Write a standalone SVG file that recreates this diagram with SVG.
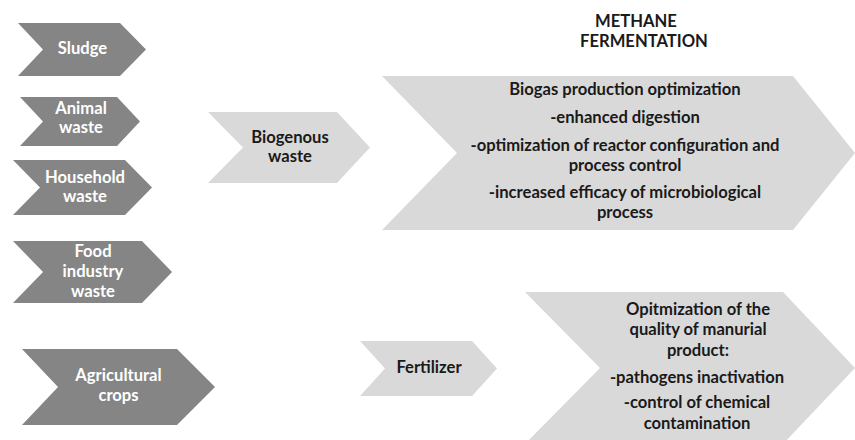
<svg xmlns="http://www.w3.org/2000/svg" width="855" height="440" viewBox="0 0 855 440">
<style>
.dark{fill:#858585}
.light{fill:#d9d9d9}
text{font-family:Lato,"Liberation Sans",sans-serif;font-weight:bold;font-size:16.6px;text-anchor:middle}
.w{fill:#ffffff}
.k{fill:#1a1a1a}
</style>
<rect width="855" height="440" fill="#ffffff"/>
<g id="connectors"></g>
<g id="sludge"><path class="dark" d="M18,23 L120,23 L146,49.5 L120,76 L18,76 L43,49.5 Z"/><text class="w" x="82.5" y="54">Sludge</text></g>
<g id="animal"><path class="dark" d="M20,97 L117,97 L140,121.5 L117,146 L20,146 L43,121.5 Z"/><text class="w" x="81" y="114">Animal</text><text class="w" x="81" y="133">waste</text></g>
<g id="household"><path class="dark" d="M13,160 L125,160 L152,187.5 L125,215 L13,215 L40,187.5 Z"/><text class="w" x="85" y="183">Household</text><text class="w" x="85" y="202">waste</text></g>
<g id="food"><path class="dark" d="M13,241 L142,241 L172,272 L142,303 L13,303 L43,272 Z"/><text class="w" x="93" y="257">Food</text><text class="w" x="93" y="277">industry</text><text class="w" x="93" y="297">waste</text></g>
<g id="agri"><path class="dark" d="M22,349 L177,349 L215,387 L177,425 L22,425 L58,387 Z"/><text class="w" x="118.5" y="381">Agricultural</text><text class="w" x="118.5" y="401">crops</text></g>
<g id="biogenous"><path class="light" d="M208,112 L337,112 L370,147.5 L337,183 L208,183 L243,147.5 Z"/><text class="k" x="290" y="143">Biogenous</text><text class="k" x="290" y="162">waste</text></g>
<g id="fertilizer"><path class="light" d="M360,341 L472,341 L497,368.5 L472,396 L360,396 L385,368.5 Z"/><text class="k" x="429" y="373">Fertilizer</text></g>
<g id="methane-title"><text class="k" x="636" y="27">METHANE</text><text class="k" x="644" y="47">FERMENTATION</text></g>
<g id="methane"><path class="light" d="M382,76 L793,76 L855,153 L793,230 L382,230 L457,153 Z"/>
<text class="k" x="625" y="95">Biogas production optimization</text>
<text class="k" x="625" y="123">-enhanced digestion</text>
<text class="k" x="625" y="151">-optimization of reactor configuration and</text>
<text class="k" x="625" y="171">process control</text>
<text class="k" x="625" y="198">-increased efficacy of microbiological</text>
<text class="k" x="625" y="218">process</text></g>
<g id="quality"><path class="light" d="M525,292 L783,292 L855,368 L783,444 L525,444 L600,368 Z"/>
<text class="k" x="698" y="315">Opitmization of the</text>
<text class="k" x="698" y="335">quality of manurial</text>
<text class="k" x="698" y="356">product:</text>
<text class="k" x="697" y="383">-pathogens inactivation</text>
<text class="k" x="697" y="408">-control of chemical</text>
<text class="k" x="697" y="429">contamination</text></g>
</svg>
